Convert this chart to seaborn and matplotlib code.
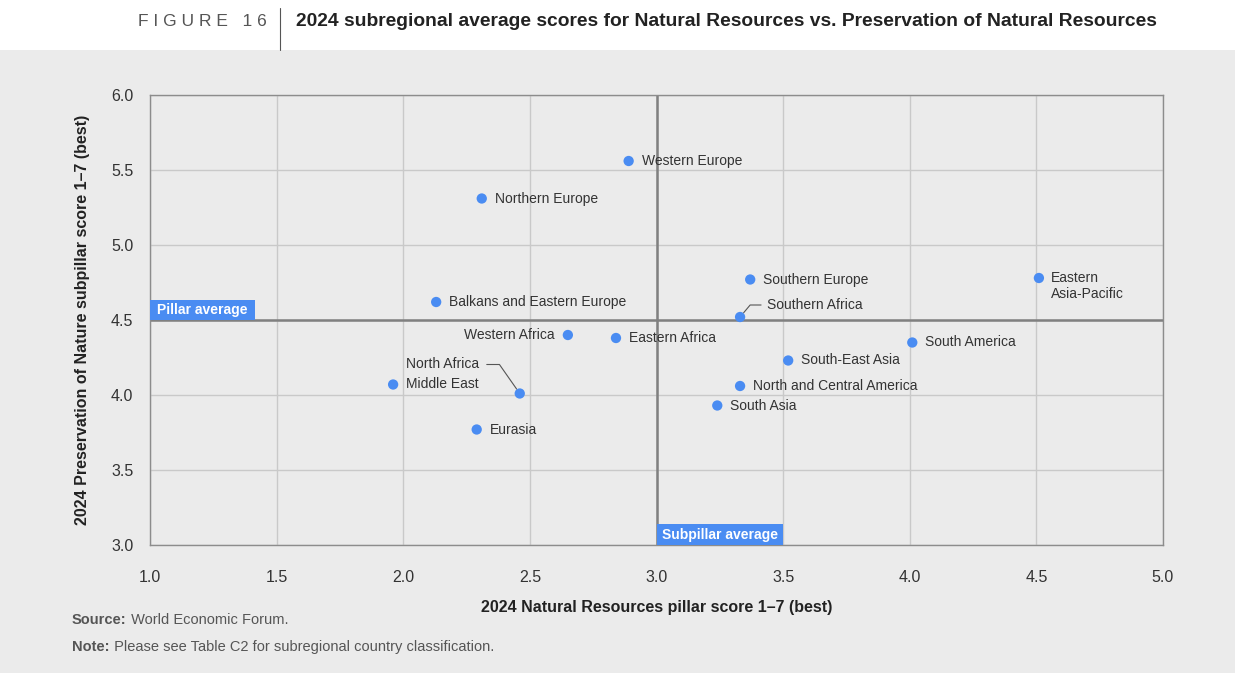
import pandas as pd
import matplotlib.pyplot as plt
import seaborn as sns
from matplotlib.patches import Rectangle
from matplotlib.lines import Line2D

# data
regions = [
    "Western Europe", "Northern Europe", "Balkans and Eastern Europe",
    "Western Africa", "Eastern Africa", "Middle East", "North Africa",
    "Eurasia", "Southern Europe", "Southern Africa", "South-East Asia",
    "North and Central America", "South Asia", "South America",
    "Eastern\nAsia-Pacific",
]
natural_resources = [2.89, 2.31, 2.13, 2.65, 2.84, 1.96, 2.46, 2.29, 3.37,
                     3.33, 3.52, 3.33, 3.24, 4.01, 4.51]
preservation = [5.56, 5.31, 4.62, 4.40, 4.38, 4.07, 4.01, 3.77, 4.77,
                4.52, 4.23, 4.06, 3.93, 4.35, 4.78]
pillar_average = 3.0
subpillar_average = 4.5
x_ticks = [1.0, 1.5, 2.0, 2.5, 3.0, 3.5, 4.0, 4.5, 5.0]
y_ticks = [3.0, 3.5, 4.0, 4.5, 5.0, 5.5, 6.0]

df = pd.DataFrame({"region": regions, "nr": natural_resources, "pres": preservation})

BG = "#ebebeb"
BLUE = "#4a8cf2"
TEXT = "#333333"

sns.set_style("white", rc={"axes.facecolor": BG})
plt.rcParams["font.family"] = ["Liberation Sans", "DejaVu Sans"]

fig = plt.figure(figsize=(12.35, 6.73), dpi=100)
fig.patch.set_facecolor("white")
fig.add_artist(Rectangle((0, 0), 1, 1 - 50 / 673, transform=fig.transFigure,
                         facecolor=BG, edgecolor="none", zorder=-10))

ax = fig.add_axes([150 / 1235, 1 - 545 / 673, 1013 / 1235, 450 / 673])
ax.set_facecolor(BG)

ax.set_xlim(1.0, 5.0)
ax.set_ylim(3.0, 6.0)
ax.set_xticks(x_ticks)
ax.set_yticks(y_ticks)
ax.set_xticklabels([f"{t:.1f}" for t in x_ticks])
ax.set_yticklabels([f"{t:.1f}" for t in y_ticks])
ax.tick_params(axis="x", length=0, pad=18, labelsize=11.5, labelcolor=TEXT)
ax.tick_params(axis="y", length=0, pad=12, labelsize=11.5, labelcolor=TEXT)
ax.grid(True, color="#c9c9c9", linewidth=1)
ax.set_axisbelow(True)
for s in ax.spines.values():
    s.set_color("#8c8c8c")
    s.set_linewidth(1)

# average lines
ax.axvline(pillar_average, color="#808080", linewidth=1.8, zorder=1)
ax.axhline(subpillar_average, color="#808080", linewidth=1.8, zorder=1)

sns.scatterplot(data=df, x="nr", y="pres", ax=ax, color=BLUE, s=55,
                edgecolor="none", zorder=3, legend=False)

# point labels
offsets = {
    "Western Africa": (-13, 0, "right"),
    "North Africa": (-41, 29, "right"),
    "Southern Africa": (27, 12, "left"),
    "Eastern\nAsia-Pacific": (12, -8, "left"),
}
for name, x, y in zip(regions, natural_resources, preservation):
    dx, dy, ha = offsets.get(name, (13, 0, "left"))
    ax.annotate(name, (x, y), xytext=(dx, dy), textcoords="offset pixels",
                ha=ha, va="center", fontsize=10, color=TEXT, zorder=4)

# leader lines
i = regions.index("North Africa")
ax.annotate("", (natural_resources[i], preservation[i]), xytext=(-33, 29),
            textcoords="offset pixels",
            arrowprops=dict(arrowstyle="-", color="#555555", lw=0.8,
                            connectionstyle="angle,angleA=0,angleB=125,rad=0",
                            shrinkA=0, shrinkB=4))
i = regions.index("Southern Africa")
ax.annotate("", (natural_resources[i], preservation[i]), xytext=(21, 12),
            textcoords="offset pixels",
            arrowprops=dict(arrowstyle="-", color="#555555", lw=0.8,
                            connectionstyle="angle,angleA=0,angleB=50,rad=0",
                            shrinkA=0, shrinkB=4))

# average tags
ax.add_patch(Rectangle((1.0, subpillar_average), 0.415, 0.133, facecolor=BLUE,
                       edgecolor="none", zorder=5, clip_on=False))
ax.text(1.0 + 0.2075, subpillar_average + 0.066, "Pillar average", ha="center",
        va="center", fontsize=10, fontweight="bold", color="white", zorder=6)
ax.add_patch(Rectangle((pillar_average, 3.0), 0.50, 0.14, facecolor=BLUE,
                       edgecolor="none", zorder=5, clip_on=False))
ax.text(pillar_average + 0.25, 3.0 + 0.066, "Subpillar average", ha="center",
        va="center", fontsize=10, fontweight="bold", color="white", zorder=6)

ax.set_xlabel("2024 Natural Resources pillar score 1–7 (best)", fontsize=11.5,
              fontweight="bold", color="#222222", labelpad=11)
ax.set_ylabel("2024 Preservation of Nature subpillar score 1–7 (best)", fontsize=11.5,
              fontweight="bold", color="#222222", labelpad=15)

# header
fig.text(138 / 1235, 1 - 22 / 673, "F I G U R E   1 6", fontsize=12.5,
         color="#555555", ha="left", va="center")
fig.add_artist(Line2D([280 / 1235, 280 / 1235], [1 - 8 / 673, 1 - 50 / 673],
                      transform=fig.transFigure, color="#555555", lw=0.8))
fig.text(296 / 1235, 1 - 22 / 673,
         "2024 subregional average scores for Natural Resources vs. Preservation of Natural Resources",
         fontsize=13.9, fontweight="bold", color="#222222", ha="left", va="center")

# footer
src = fig.text(72 / 1235, 1 - 620 / 673, "Source:", fontsize=10.5,
               fontweight="bold", color="#555555", ha="left", va="center")
note = fig.text(72 / 1235, 1 - 647 / 673, "Note:", fontsize=10.5,
                fontweight="bold", color="#555555", ha="left", va="center")
ax.annotate(" World Economic Forum.", xy=(1, 0.5), xycoords=src, fontsize=10.5,
            color="#555555", ha="left", va="center", annotation_clip=False)
ax.annotate(" Please see Table C2 for subregional country classification.",
            xy=(1, 0.5), xycoords=note, fontsize=10.5, color="#555555",
            ha="left", va="center", annotation_clip=False)

fig.savefig("out.png", dpi=100, facecolor=fig.get_facecolor())
